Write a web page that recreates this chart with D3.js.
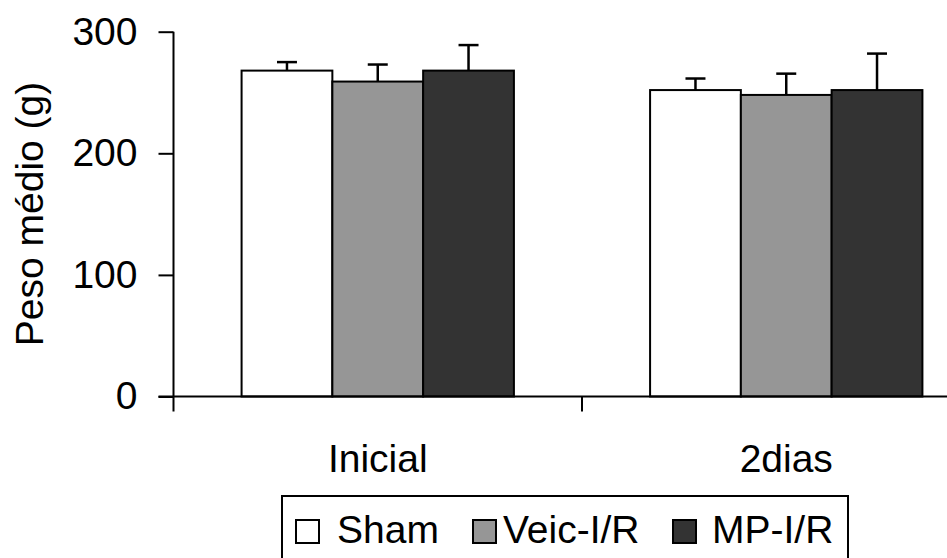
<!DOCTYPE html>
<html>
<head>
<meta charset="utf-8">
<script src="https://cdn.jsdelivr.net/npm/d3@7"></script>
<style>
  html, body { margin: 0; padding: 0; background: #fff; }
  svg { display: block; }
  text { font-family: "Liberation Sans", Arial, sans-serif; fill: #000; }
</style>
</head>
<body>
<svg id="chart" width="947" height="558"></svg>
<script>
// ---- data ----
const categories = ["Inicial", "2dias"];
const seriesNames = ["Sham", "Veic-I/R", "MP-I/R"];
const shamValues = [268, 252];
const veicValues = [259, 248];
const mpValues = [268, 252];
const shamErrors = [7, 9.5];
const veicErrors = [14, 17.5];
const mpErrors = [21, 30];
const yTicks = [0, 100, 200, 300];
const yTitle = "Peso médio (g)";
const seriesColors = ["#ffffff", "#969696", "#333333"];

const seriesValues = [shamValues, veicValues, mpValues];
const seriesErrors = [shamErrors, veicErrors, mpErrors];

const svg = d3.select("#chart");
const fontSize = 39;

const left = 173.5, bandW = 408.5;
const y0 = 396.5, yTop = 31.7;

const x0 = d3.scaleBand().domain(categories).range([left, left + bandW * categories.length]).padding(0);
const x1 = d3.scaleBand().domain(seriesNames).range([0, x0.bandwidth()]).paddingInner(0).paddingOuter(0.75);
const y = d3.scaleLinear().domain([0, 300]).range([y0, yTop]);

// bars
const data = [];
categories.forEach((c, ci) => {
  seriesNames.forEach((s, si) => {
    data.push({ c, s, si, v: seriesValues[si][ci], e: seriesErrors[si][ci] });
  });
});

const g = svg.append("g");

// error bars (drawn before bars so bar outline covers the bottom)
data.forEach(d => {
  const cx = x0(d.c) + x1(d.s) + x1.bandwidth() / 2;
  g.append("line")
    .attr("x1", cx).attr("x2", cx)
    .attr("y1", y(d.v)).attr("y2", y(d.v + d.e))
    .attr("stroke", "#000").attr("stroke-width", 2.5);
  g.append("line")
    .attr("x1", cx - 10).attr("x2", cx + 10)
    .attr("y1", y(d.v + d.e)).attr("y2", y(d.v + d.e))
    .attr("stroke", "#000").attr("stroke-width", 2.5);
});

g.selectAll("rect.bar").data(data).join("rect")
  .attr("class", "bar")
  .attr("x", d => x0(d.c) + x1(d.s))
  .attr("y", d => y(d.v))
  .attr("width", x1.bandwidth())
  .attr("height", d => y(0) - y(d.v))
  .attr("fill", d => seriesColors[d.si])
  .attr("stroke", "#000")
  .attr("stroke-width", 2);

// y axis
const yAxis = d3.axisLeft(y).tickValues(yTicks).tickSize(15).tickPadding(21).tickFormat(d3.format("d"));
const ya = svg.append("g").attr("transform", `translate(${left},0)`).call(yAxis);
ya.select(".domain").remove();
ya.selectAll(".tick line").attr("stroke", "#000").attr("stroke-width", 2);
ya.selectAll(".tick text").attr("font-size", fontSize).attr("font-family", "Liberation Sans, Arial, sans-serif").attr("fill", "#000");
svg.append("line").attr("x1", left).attr("x2", left).attr("y1", y(300)).attr("y2", y0 + 15)
  .attr("stroke", "#000").attr("stroke-width", 2);

// x axis line
svg.append("line").attr("x1", left - 15).attr("x2", 947).attr("y1", y0).attr("y2", y0)
  .attr("stroke", "#000").attr("stroke-width", 2);
// category boundary ticks
categories.forEach(c => {
  const bx = x0(c) + x0.bandwidth();
  svg.append("line").attr("x1", bx).attr("x2", bx).attr("y1", y0).attr("y2", y0 + 15)
    .attr("stroke", "#000").attr("stroke-width", 2);
});
// category labels
svg.selectAll("text.cat").data(categories).join("text")
  .attr("class", "cat")
  .attr("x", d => x0(d) + x0.bandwidth() / 2)
  .attr("y", 472)
  .attr("text-anchor", "middle")
  .attr("font-size", fontSize)
  .text(d => d);

// y title
svg.append("text")
  .attr("transform", "translate(43,214) rotate(-90)")
  .attr("text-anchor", "middle")
  .attr("font-size", fontSize)
  .text(yTitle);

// legend
const lg = svg.append("g");
lg.append("rect").attr("x", 282).attr("y", 496).attr("width", 566).attr("height", 80)
  .attr("fill", "none").attr("stroke", "#000").attr("stroke-width", 2);
const legX = [296, 473, 673];
const legTextX = [337, 503, 712];
seriesNames.forEach((s, i) => {
  lg.append("rect").attr("x", legX[i]).attr("y", 520).attr("width", 23).attr("height", 23)
    .attr("fill", seriesColors[i]).attr("stroke", "#000").attr("stroke-width", 2);
  lg.append("text").attr("x", legTextX[i]).attr("y", 543)
    .attr("font-size", fontSize).text(s);
});
</script>
</body>
</html>
